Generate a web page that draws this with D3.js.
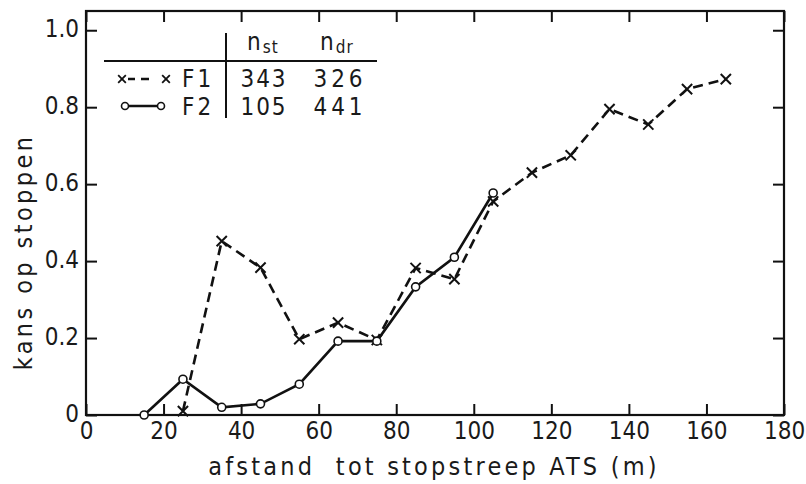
<!DOCTYPE html>
<html>
<head>
<meta charset="utf-8">
<script src="https://cdn.jsdelivr.net/npm/d3@7"></script>
<style>
  body { margin: 0; background: #fff; }
  svg { display: block; }
  text { font-family: "DejaVu Sans Condensed", "DejaVu Sans", sans-serif; font-stretch: condensed; fill: #1a1a1a; }
</style>
</head>
<body>
<svg id="chart" width="806" height="484"></svg>
<script>
// F1: dashed line with x markers
const distF1 = [25, 35, 45, 55, 65, 75, 85, 95, 105, 115, 125, 135, 145, 155, 165];
const kansF1 = [0.01, 0.452, 0.383, 0.197, 0.24, 0.195, 0.382, 0.353, 0.555, 0.63, 0.675, 0.795, 0.755, 0.847, 0.873];
// F2: solid line with open circles
const distF2 = [15, 25, 35, 45, 55, 65, 75, 85, 95, 105];
const kansF2 = [0, 0.093, 0.02, 0.029, 0.08, 0.192, 0.192, 0.333, 0.41, 0.577];

const xTicks = [0, 20, 40, 60, 80, 100, 120, 140, 160, 180];
const yTicks = [0, 0.2, 0.4, 0.6, 0.8, 1.0];
const yTickLabels = ['0', '0.2', '0.4', '0.6', '0.8', '1.0'];

const legendNames = ['F1', 'F2'];
const nSt = [343, 105];
const nDr = [326, 441];

const xTitle = 'afstand  tot stopstreep ATS (m)';
const yTitle = 'kans op stoppen';

const svg = d3.select('#chart');
const m = { left: 86, right: 784, top: 11, bottom: 415 };

const x = d3.scaleLinear().domain([0, 180]).range([m.left, m.right]);
const y = d3.scaleLinear().domain([0, 1.05]).range([m.bottom, m.top]);

const tickLen = 11;

// frame
svg.append('rect')
  .attr('x', m.left).attr('y', m.top)
  .attr('width', m.right - m.left).attr('height', m.bottom - m.top)
  .attr('fill', 'none').attr('stroke', '#111').attr('stroke-width', 2.2);

const styleAxis = g => {
  g.select('.domain').remove();
  g.selectAll('.tick line').attr('stroke', '#111').attr('stroke-width', 2);
  g.selectAll('text').attr('font-size', 24).attr('fill', '#1a1a1a').attr('font-family', null);
};

svg.append('g')
  .attr('transform', `translate(0,${m.bottom})`)
  .call(d3.axisBottom(x).tickValues(xTicks).tickSize(-tickLen).tickPadding(7).tickFormat(d3.format('d')))
  .call(styleAxis);

svg.append('g')
  .attr('transform', `translate(0,${m.top})`)
  .call(d3.axisTop(x).tickValues(xTicks).tickSize(-tickLen).tickFormat(''))
  .call(styleAxis);

svg.append('g')
  .attr('transform', `translate(${m.left},0)`)
  .call(d3.axisLeft(y).tickValues(yTicks).tickSize(-tickLen).tickPadding(7)
    .tickFormat((d, i) => yTickLabels[i]))
  .call(styleAxis)
  .selectAll('text').attr('dy', '0.25em');

svg.append('g')
  .attr('transform', `translate(${m.right},0)`)
  .call(d3.axisRight(y).tickValues(yTicks).tickSize(-tickLen).tickFormat(''))
  .call(styleAxis);

// axis titles
svg.append('text')
  .attr('x', (m.left + m.right) / 2 - 1).attr('y', 475)
  .attr('text-anchor', 'middle').attr('font-size', 25)
  .attr('letter-spacing', 3.2).attr('xml:space', 'preserve')
  .text(xTitle);

svg.append('text')
  .attr('transform', 'translate(32,252) rotate(-90)')
  .attr('text-anchor', 'middle').attr('font-size', 25)
  .attr('letter-spacing', 3.4)
  .text(yTitle);

// series
const ptsF1 = distF1.map((d, i) => [d, kansF1[i]]);
const ptsF2 = distF2.map((d, i) => [d, kansF2[i]]);
const line = d3.line().x(d => x(d[0])).y(d => y(d[1]));

svg.append('path').datum(ptsF1)
  .attr('d', line).attr('fill', 'none').attr('stroke', '#111')
  .attr('stroke-width', 2.6).attr('stroke-dasharray', '10,6');

svg.append('path').datum(ptsF2)
  .attr('d', line).attr('fill', 'none').attr('stroke', '#111')
  .attr('stroke-width', 2.6);

const cross = d3.symbol().type(d3.symbolTimes).size(70);

svg.append('g').selectAll('path')
  .data(ptsF1).enter().append('path')
  .attr('transform', d => `translate(${x(d[0])},${y(d[1])})`)
  .attr('d', cross).attr('fill', 'none').attr('stroke', '#111').attr('stroke-width', 2);

svg.append('g').selectAll('circle')
  .data(ptsF2).enter().append('circle')
  .attr('cx', d => x(d[0])).attr('cy', d => y(d[1]))
  .attr('r', 4).attr('fill', '#fff').attr('stroke', '#111').attr('stroke-width', 1.6);

// legend table
const lg = svg.append('g');
lg.append('line').attr('x1', 104).attr('x2', 377).attr('y1', 61).attr('y2', 61)
  .attr('stroke', '#111').attr('stroke-width', 2);
lg.append('line').attr('x1', 226).attr('x2', 226).attr('y1', 33).attr('y2', 118)
  .attr('stroke', '#111').attr('stroke-width', 2);

const header = [['n', 'st', 247], ['n', 'dr', 320]];
header.forEach(h => {
  const t = lg.append('text').attr('x', h[2]).attr('y', 50).attr('font-size', 24);
  t.append('tspan').text(h[0]);
  t.append('tspan').attr('font-size', 17).attr('dy', 3).attr('dx', 2).attr('letter-spacing', 1).text(h[1]);
});

const rowY = [87, 115];
legendNames.forEach((name, i) => {
  lg.append('text').attr('x', 182).attr('y', rowY[i]).attr('font-size', 24)
    .attr('letter-spacing', 3).text(name);
  lg.append('text').attr('x', 264).attr('y', rowY[i]).attr('font-size', 24)
    .attr('text-anchor', 'middle').attr('letter-spacing', 2).text(nSt[i]);
  lg.append('text').attr('x', 340).attr('y', rowY[i]).attr('font-size', 24)
    .attr('text-anchor', 'middle').attr('letter-spacing', 4).text(nDr[i]);
});

// legend symbols
lg.append('line').attr('x1', 128).attr('x2', 162).attr('y1', 79).attr('y2', 79)
  .attr('stroke', '#111').attr('stroke-width', 2.6).attr('stroke-dasharray', '7,6,8,13');
[122, 166].forEach(cx => {
  lg.append('path').attr('transform', `translate(${cx},79)`)
    .attr('d', d3.symbol().type(d3.symbolTimes).size(40))
    .attr('fill', 'none').attr('stroke', '#111').attr('stroke-width', 1.8);
});
lg.append('line').attr('x1', 125).attr('x2', 161).attr('y1', 106).attr('y2', 106)
  .attr('stroke', '#111').attr('stroke-width', 2.6);
[125, 161].forEach(cx => {
  lg.append('circle').attr('cx', cx).attr('cy', 106).attr('r', 3.5)
    .attr('fill', '#fff').attr('stroke', '#111').attr('stroke-width', 1.6);
});
</script>
</body>
</html>
